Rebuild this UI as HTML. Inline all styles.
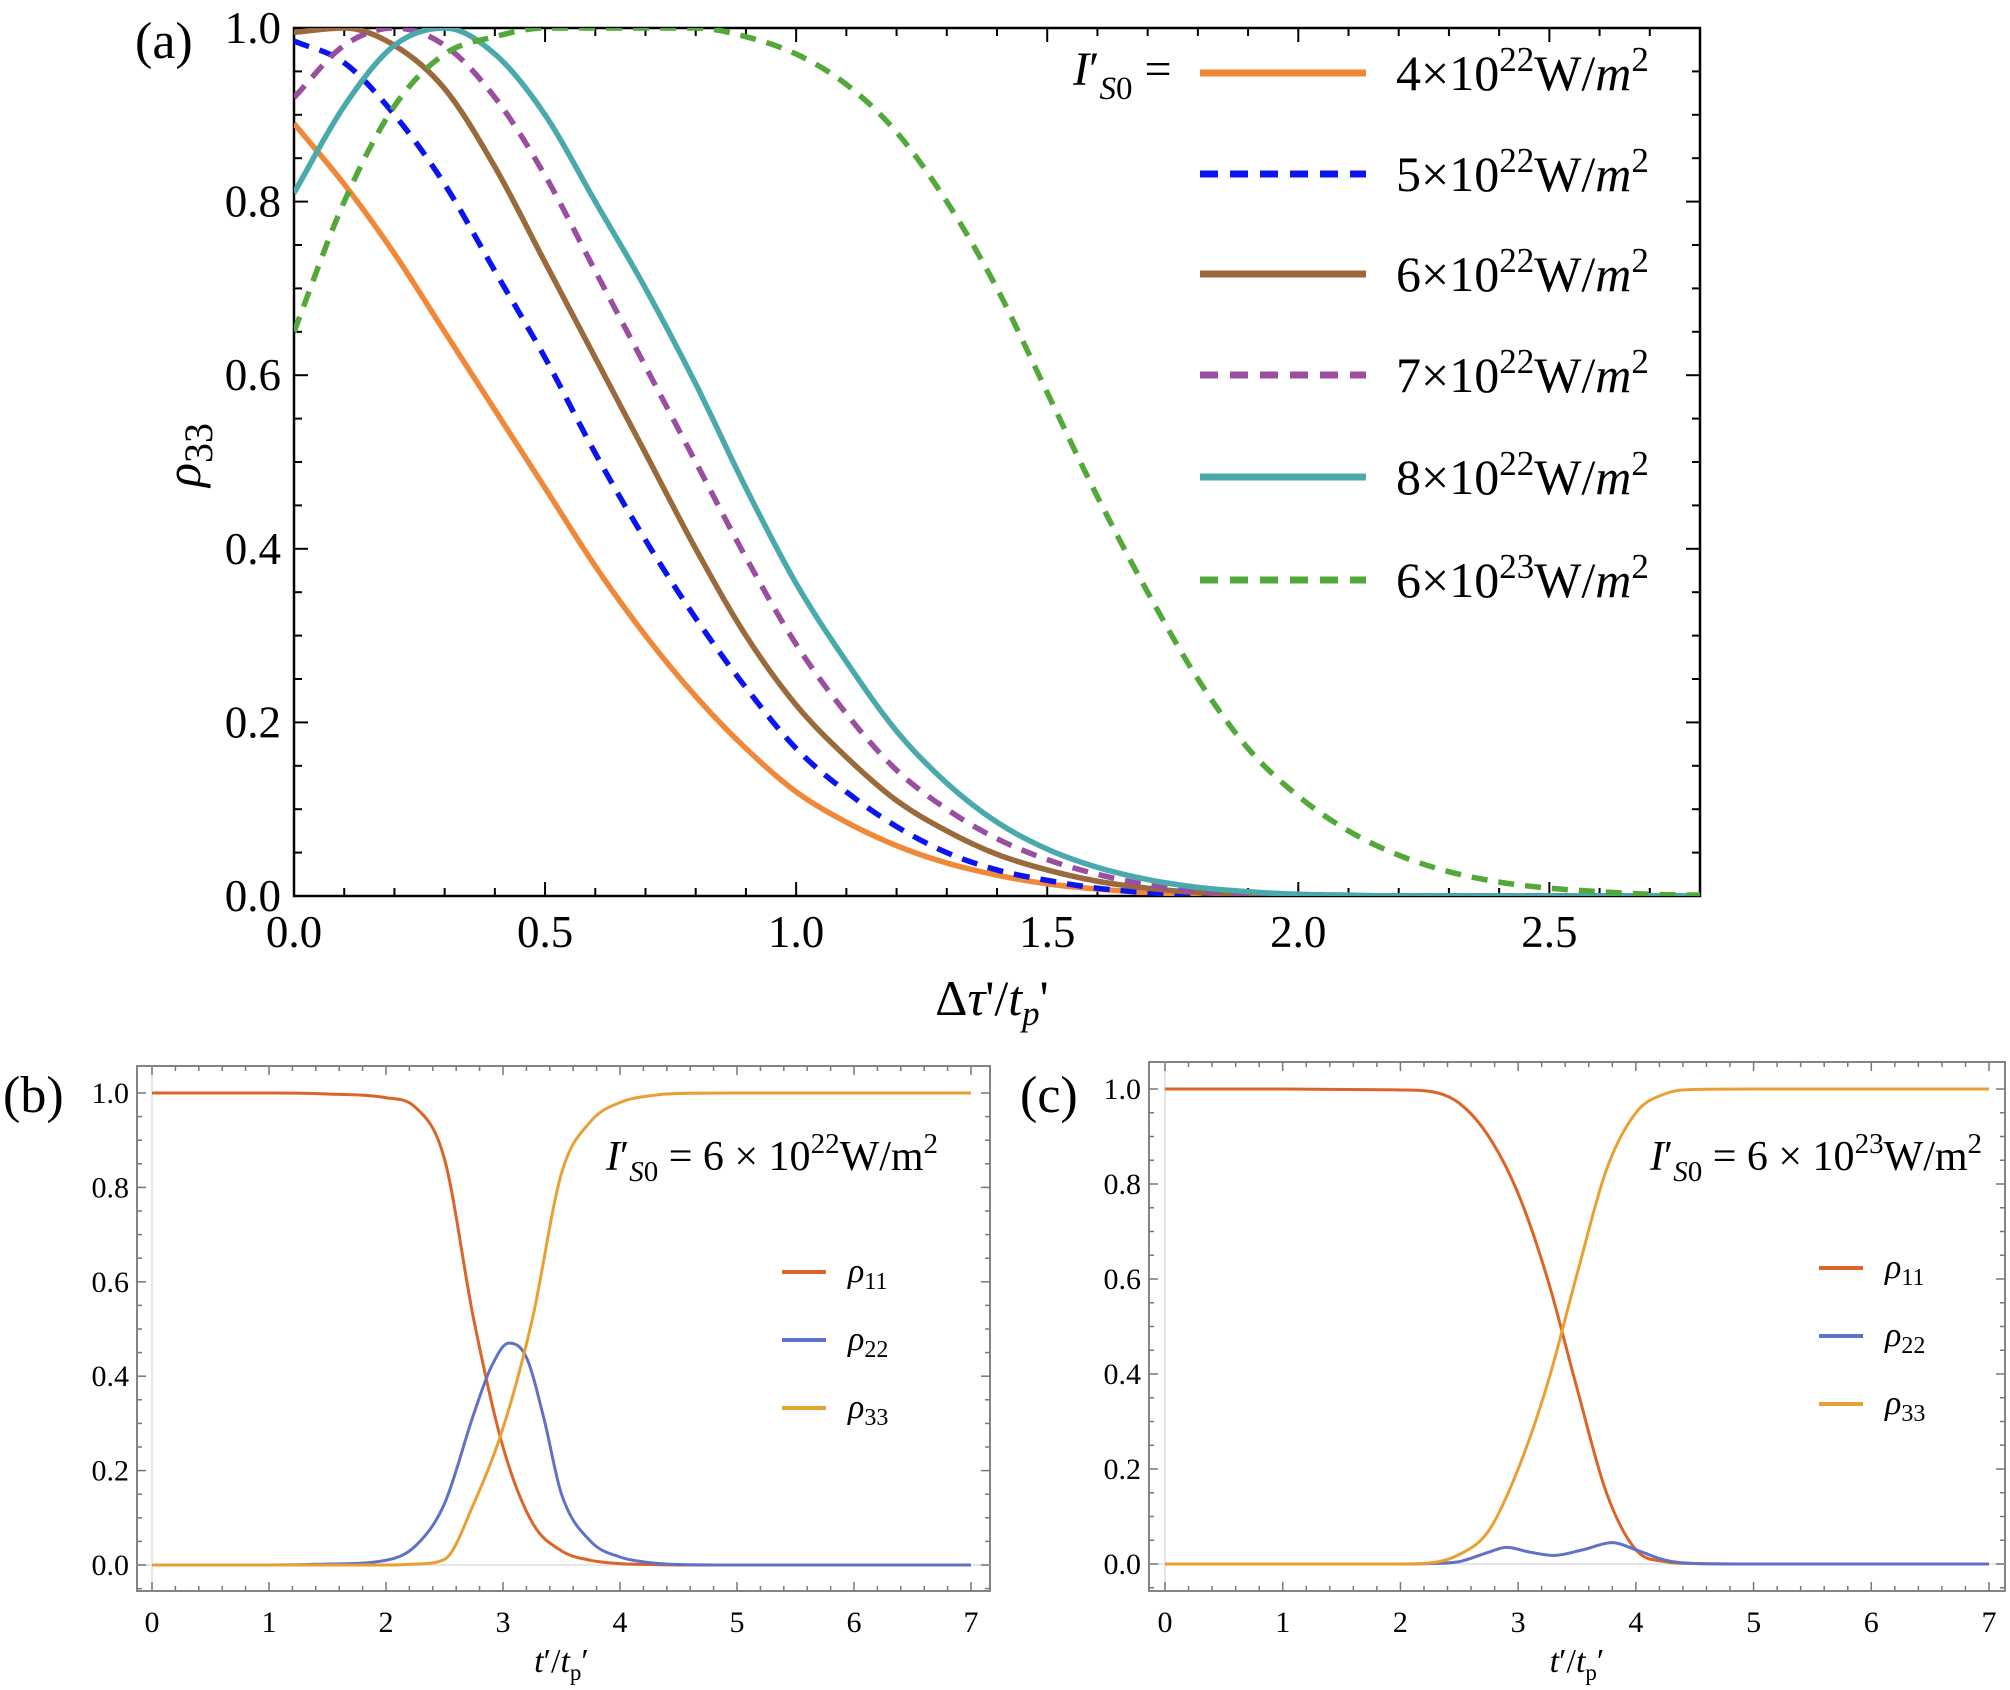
<!DOCTYPE html>
<html><head><meta charset="utf-8"><style>
body{margin:0;background:#fff;}
svg{display:block;font-family:"Liberation Serif",serif;}
</style></head><body>
<svg id="fig" width="2010" height="1690" viewBox="0 0 2010 1690">
<defs>
<clipPath id="clipA"><rect x="294" y="28" width="1406" height="868"/></clipPath>
<clipPath id="clipB"><rect x="137" y="1066" width="853" height="525"/></clipPath>
<clipPath id="clipC"><rect x="1149" y="1062" width="856" height="529"/></clipPath>
</defs>
<g id="panelA"></g>
<g id="panelB"></g>
<g id="panelC"></g>
</svg>
<script>
// ---------- Panel (a) data ----------
const aX = [0,0.1,0.2,0.3,0.4,0.5,0.6,0.7,0.8,0.9,1.0,1.1,1.2,1.3,1.4,1.5,1.6,1.7,1.8,1.9,2.0,2.1,2.2,2.3,2.4,2.5,2.6,2.7,2.8];
const a4e22 = [0.89,0.82,0.74,0.65,0.56,0.47,0.38,0.30,0.23,0.17,0.12,0.085,0.058,0.038,0.024,0.014,0.008,0.004,0.002,0.001,0,0,0,0,0,0,0,0,0];
const a5e22 = [0.985,0.96,0.90,0.82,0.72,0.62,0.51,0.41,0.32,0.24,0.17,0.12,0.08,0.05,0.03,0.018,0.009,0.004,0.002,0.001,0,0,0,0,0,0,0,0,0];
const a6e22 = [0.995,1.0,0.98,0.93,0.84,0.73,0.62,0.51,0.40,0.30,0.22,0.16,0.11,0.075,0.048,0.03,0.017,0.009,0.004,0.002,0.001,0,0,0,0,0,0,0,0];
const a7e22 = [0.92,0.98,1.0,0.98,0.92,0.83,0.72,0.61,0.50,0.39,0.29,0.21,0.145,0.10,0.066,0.042,0.025,0.013,0.006,0.003,0.001,0,0,0,0,0,0,0,0];
const a8e22 = [0.81,0.91,0.98,1.0,0.97,0.90,0.80,0.70,0.59,0.47,0.36,0.27,0.19,0.13,0.085,0.054,0.033,0.019,0.01,0.005,0.002,0.001,0,0,0,0,0,0,0];
const a6e23 = [0.65,0.80,0.91,0.97,0.99,1.0,1.0,1.0,1.0,0.99,0.97,0.935,0.88,0.80,0.70,0.58,0.46,0.35,0.25,0.17,0.115,0.075,0.047,0.028,0.016,0.009,0.005,0.002,0.001];
const aXTicks = [0,0.5,1.0,1.5,2.0,2.5];
const aXTickLabels = ["0.0","0.5","1.0","1.5","2.0","2.5"];
const aYTicks = [0,0.2,0.4,0.6,0.8,1.0];
const aYTickLabels = ["0.0","0.2","0.4","0.6","0.8","1.0"];
const aLegendExp = ["22","22","22","22","22","23"];
const aLegendMant = ["4","5","6","7","8","6"];

// ---------- Panel (b) data ----------
const bT11 = [0,1,1.5,2,2.25,2.5,2.75,3,3.25,3.5,3.75,4,4.25,4.5,5,7];
const bRho11 = [1,1,0.998,0.99,0.97,0.86,0.52,0.25,0.09,0.03,0.01,0.003,0.001,0,0,0];
const bT22 = [0,1,1.5,2,2.25,2.5,2.75,2.9,3.05,3.2,3.35,3.5,3.75,4,4.25,4.5,5,7];
const bRho22 = [0,0,0.002,0.01,0.04,0.13,0.32,0.42,0.47,0.44,0.31,0.15,0.05,0.017,0.005,0.001,0,0];
const bT33 = [0,1,2,2.25,2.5,2.75,3,3.25,3.5,3.75,4,4.25,4.5,5,7];
const bRho33 = [0,0,0,0.002,0.012,0.13,0.29,0.52,0.83,0.94,0.98,0.994,0.999,1,1];

// ---------- Panel (c) data ----------
const cT11 = [0,1,2,2.25,2.5,2.75,3,3.25,3.5,3.75,4,4.25,4.5,5,7];
const cRho11 = [1,1,0.998,0.995,0.97,0.9,0.78,0.6,0.37,0.15,0.03,0.005,0.001,0,0];
const cT22 = [0,1,2,2.25,2.5,2.75,2.9,3.1,3.3,3.55,3.8,4.0,4.25,4.5,5,7];
const cRho22 = [0,0,0,0.001,0.005,0.025,0.035,0.025,0.018,0.03,0.045,0.03,0.008,0.001,0,0];
const cT33 = [0,1,2,2.25,2.5,2.75,3,3.25,3.5,3.75,4,4.25,4.5,5,7];
const cRho33 = [0,0,0,0.002,0.02,0.07,0.2,0.38,0.61,0.83,0.95,0.99,0.999,1,1];
const bcXTicks = [0,1,2,3,4,5,6,7];
const bcYTicks = [0,0.2,0.4,0.6,0.8,1.0];
const bcYTickLabels = ["0.0","0.2","0.4","0.6","0.8","1.0"];

const NS = "http://www.w3.org/2000/svg";
function mk(tag, attrs, parent){const e=document.createElementNS(NS,tag);for(const k in attrs)e.setAttribute(k,attrs[k]);if(parent)parent.appendChild(e);return e;}
function lin(d0,d1,r0,r1){return v=>r0+(v-d0)*(r1-r0)/(d1-d0);}
// monotone cubic (Fritsch-Carlson) in pixel space
function smoothPath(xs,ys,sx,sy){
  const X=xs.map(sx), Y=ys.map(sy), n=X.length;
  const d=[],m=[];
  for(let i=0;i<n-1;i++)d.push((Y[i+1]-Y[i])/(X[i+1]-X[i]));
  m[0]=d[0];m[n-1]=d[n-2];
  for(let i=1;i<n-1;i++){ if(d[i-1]*d[i]<=0)m[i]=0; else m[i]=(d[i-1]+d[i])/2; }
  for(let i=0;i<n-1;i++){
    if(d[i]===0){m[i]=0;m[i+1]=0;continue;}
    const a=m[i]/d[i],b=m[i+1]/d[i],s=a*a+b*b;
    if(s>9){const t=3/Math.sqrt(s);m[i]=t*a*d[i];m[i+1]=t*b*d[i];}
  }
  let p="M"+X[0].toFixed(2)+","+Y[0].toFixed(2);
  for(let i=0;i<n-1;i++){
    const h=(X[i+1]-X[i])/3;
    p+=" C"+(X[i]+h).toFixed(2)+","+(Y[i]+m[i]*h).toFixed(2)+" "+(X[i+1]-h).toFixed(2)+","+(Y[i+1]-m[i+1]*h).toFixed(2)+" "+X[i+1].toFixed(2)+","+Y[i+1].toFixed(2);
  }
  return p;
}

// ================= Panel A =================
(function(){
  const g=document.getElementById('panelA');
  const L=294,R=1700,T=28,B=896;
  const sx=lin(0,2.8,L,R), sy=lin(0,1,B,T);
  const frame=mk('rect',{x:L,y:T,width:R-L,height:B-T,fill:'none',stroke:'#000','stroke-width':2.5},g);
  
  
  for(let i=0;i<=28;i++){const v=i/10,x=sx(v),len=(i%5===0)?14:8;
    mk('line',{x1:x,y1:B,x2:x,y2:B-len,stroke:'#000','stroke-width':2},g);
    mk('line',{x1:x,y1:T,x2:x,y2:T+len,stroke:'#000','stroke-width':2},g);}
  for(let i=0;i<=20;i++){const v=i/20,y=sy(v),len=(i%4===0)?14:8;
    mk('line',{x1:L,y1:y,x2:L+len,y2:y,stroke:'#000','stroke-width':2},g);
    mk('line',{x1:R,y1:y,x2:R-len,y2:y,stroke:'#000','stroke-width':2},g);}
  aXTicks.forEach((v,i)=>{const t=mk('text',{x:sx(v),y:947,'text-anchor':'middle','font-size':45},g);t.textContent=aXTickLabels[i];
    
    });
  aYTicks.forEach((v,i)=>{const t=mk('text',{x:281,y:sy(v)+15,'text-anchor':'end','font-size':45},g);t.textContent=aYTickLabels[i];
    
    });
  const pl=mk('text',{x:135,y:58,'font-size':52},g);pl.textContent='(a)';
  
  
  const yt=mk('text',{x:0,y:0,'font-size':50,'font-style':'italic',transform:'translate(200,455) rotate(-90)','text-anchor':'middle'},g);
  yt.innerHTML='ρ<tspan font-style="normal" font-size="40" dy="12">33</tspan>';
  
  
  const xt=mk('text',{x:992,y:1015,'font-size':50,'text-anchor':'middle'},g);
  xt.innerHTML='Δ<tspan font-style="italic">τ</tspan>\'/<tspan font-style="italic">t</tspan><tspan font-style="italic" font-size="35" dy="10">p</tspan><tspan dy="-10">\'</tspan>';
  
  
  const series=[
    {v:a4e22,c:'#f0883a',dash:null,name:'series-4e22'},
    {v:a5e22,c:'#0a14f0',dash:'16 11',name:'series-5e22'},
    {v:a6e22,c:'#9a6a3c',dash:null,name:'series-6e22'},
    {v:a7e22,c:'#9a4ea0',dash:'16 11',name:'series-7e22'},
    {v:a8e22,c:'#4aa9ad',dash:null,name:'series-8e22'},
    {v:a6e23,c:'#52a838',dash:'16 11',name:'series-6e23'}];
  const cg=mk('g',{'clip-path':'url(#clipA)'},g);
  series.forEach(s=>{const p=mk('path',{d:smoothPath(aX,s.v,sx,sy),fill:'none',stroke:s.c,'stroke-width':5.5},cg);
    if(s.dash)p.setAttribute('stroke-dasharray',s.dash);
    
    });
  const lt=mk('text',{x:1073,y:85,'font-size':48},g);
  lt.innerHTML='<tspan font-style="italic">I</tspan>′<tspan font-style="italic" font-size="33" dy="14">S</tspan><tspan font-size="33">0</tspan><tspan dy="-14"> =</tspan>';
  
  
  const ly=[73,174,274,375,477,580];
  series.forEach((s,i)=>{
    const ln=mk('line',{x1:1200,y1:ly[i],x2:1366,y2:ly[i],stroke:s.c,'stroke-width':7},g);
    if(s.dash)ln.setAttribute('stroke-dasharray','18 12');
    
    
    const t=mk('text',{x:1396,y:ly[i]+17,'font-size':50},g);
    t.innerHTML=aLegendMant[i]+'×10<tspan font-size="35" dy="-19">'+aLegendExp[i]+'</tspan><tspan dy="19">W/</tspan><tspan font-style="italic">m</tspan><tspan font-size="35" dy="-19">2</tspan>';
    
    
  });
})();

// ================= Panels B & C =================
function smallPanel(gid,L,R,T,B,x0px,x7px,y1px,y0px,clip,lab,labX,exp,annX,legX,legY,d){
  const g=document.getElementById(gid);
  const sx=lin(0,7,x0px,x7px), sy=lin(0,1,y0px,y1px);
  const fr=mk('rect',{x:L,y:T,width:R-L,height:B-T,fill:'none',stroke:'#777','stroke-width':1.8},g);
  
  
  mk('line',{x1:sx(0),y1:T,x2:sx(0),y2:B,stroke:'#e6e6e6','stroke-width':2},g);
  mk('line',{x1:L,y1:sy(0),x2:R,y2:sy(0),stroke:'#e6e6e6','stroke-width':2},g);
  for(let i=0;i<=35;i++){const v=i/5,x=sx(v),len=(i%5===0)?9:5;
    mk('line',{x1:x,y1:B,x2:x,y2:B-len,stroke:'#777','stroke-width':1.5},g);
    mk('line',{x1:x,y1:T,x2:x,y2:T+len,stroke:'#777','stroke-width':1.5},g);}
  for(let i=-1;i<=20;i++){const v=i/20,y=sy(v),len=(i%4===0)?9:5;if(y>B||y<T)continue;
    mk('line',{x1:L,y1:y,x2:L+len,y2:y,stroke:'#777','stroke-width':1.5},g);
    mk('line',{x1:R,y1:y,x2:R-len,y2:y,stroke:'#777','stroke-width':1.5},g);}
  bcXTicks.forEach(v=>{const t=mk('text',{x:sx(v),y:1632,'text-anchor':'middle','font-size':30},g);t.textContent=String(v);
    
    });
  bcYTicks.forEach((v,i)=>{const t=mk('text',{x:L-8,y:sy(v)+10,'text-anchor':'end','font-size':30},g);t.textContent=bcYTickLabels[i];
    
    });
  const pl=mk('text',{x:labX,y:1112,'font-size':52},g);pl.textContent='('+lab+')';
  
  
  const xt=mk('text',{x:(x0px+x7px)/2,y:1672,'font-size':34,'text-anchor':'middle'},g);
  xt.innerHTML='<tspan font-style="italic">t</tspan>′/<tspan font-style="italic">t</tspan><tspan font-size="23" dy="8">p</tspan><tspan dy="-8">′</tspan>';
  
  
  const an=mk('text',{x:annX,y:1170,'font-size':42},g);
  an.innerHTML='<tspan font-style="italic">I</tspan>′<tspan font-style="italic" font-size="29" dy="11">S</tspan><tspan font-size="29">0</tspan><tspan dy="-11"> = 6 × 10</tspan><tspan font-size="29" dy="-17">'+exp+'</tspan><tspan dy="17">W/m</tspan><tspan font-size="29" dy="-17">2</tspan>';
  
  
  const cg=mk('g',{'clip-path':'url('+clip+')'},g);
  const cols=['#dc6428','#6072c8','#e8a032'];
  const names=['11','22','33'];
  d.forEach((s,i)=>{const p=mk('path',{d:smoothPath(s[0],s[1],sx,sy),fill:'none',stroke:cols[i],'stroke-width':3},cg);
    
    });
  legY.forEach((y,i)=>{
    const ln=mk('line',{x1:legX,y1:y,x2:legX+44,y2:y,stroke:cols[i],'stroke-width':4},g);
    
    
    const t=mk('text',{x:legX+66,y:y+10,'font-size':34,'font-style':'italic'},g);
    t.innerHTML='ρ<tspan font-style="normal" font-size="24" dy="7">'+names[i]+'</tspan>';
    
    
  });
}
smallPanel('panelB',137,990,1066,1591,152,971,1093,1565,'#clipB','b',3,'22',606,782,[1272,1340,1408],
  [[bT11,bRho11],[bT22,bRho22],[bT33,bRho33]]);
smallPanel('panelC',1149,2005,1062,1591,1165,1989,1089,1564,'#clipC','c',1020,'23',1650,1819,[1268,1336,1404],
  [[cT11,cRho11],[cT22,cRho22],[cT33,cRho33]]);
</script>
</body></html>
